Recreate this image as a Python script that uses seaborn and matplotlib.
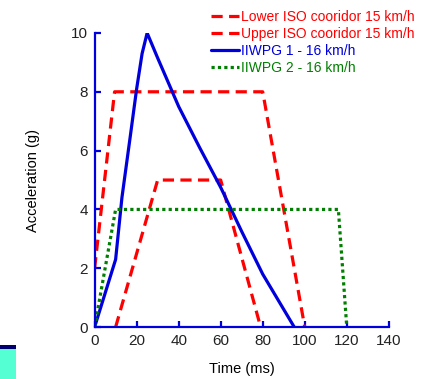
import matplotlib
matplotlib.use("Agg")
import matplotlib.pyplot as plt
import seaborn as sns
import pandas as pd
from matplotlib.patches import Rectangle

# Data
lower_t = [10, 30, 60, 79]
lower_a = [0, 5, 5, 0]
upper_t = [0, 9.5, 80, 100]
upper_a = [2, 8, 8, 0]
iiwpg1_t = [0, 10, 13, 17, 20, 22.6, 25, 30, 40, 50, 60, 70, 80, 95]
iiwpg1_a = [0, 2.3, 4.4, 6.5, 8.1, 9.3, 10, 9.15, 7.5, 6.1, 4.75, 3.25, 1.8, 0]
iiwpg2_t = [0, 10, 116, 120]
iiwpg2_a = [0, 4, 4, 0]

labels = ["Lower ISO cooridor 15 km/h", "Upper ISO cooridor 15 km/h",
          "IIWPG 1 - 16 km/h", "IIWPG 2 - 16 km/h"]
xticks = [0, 20, 40, 60, 80, 100, 120, 140]
yticks = [0, 2, 4, 6, 8, 10]

sns.set_theme(style="white")
plt.rcParams['font.family'] = ['Liberation Sans', 'DejaVu Sans']

fig = plt.figure(figsize=(4.32, 3.79), dpi=100)
ax = fig.add_axes([0.219, 0.137, 0.681, 0.776])

red = "#ff0000"
blue = "#0000dd"
green = "#008000"

series = [
    (lower_t, lower_a, labels[0], red, (0, (3.5, 2.0))),
    (upper_t, upper_a, labels[1], red, (0, (3.5, 2.0))),
    (iiwpg1_t, iiwpg1_a, labels[2], blue, "-"),
    (iiwpg2_t, iiwpg2_a, labels[3], green, (0, (1.0, 1.0))),
]
for t, a, lab, col, ls in series:
    df = pd.DataFrame({"t": t, "a": a})
    sns.lineplot(data=df, x="t", y="a", ax=ax, color=col, linestyle=ls,
                 linewidth=2.3, label=lab, estimator=None, sort=False)

ax.set_xlim(0, 140)
ax.set_ylim(0, 10)
ax.set_xticks(xticks)
ax.set_yticks(yticks)
ax.set_xlabel("Time (ms)", fontsize=10.5, color="black", labelpad=10)
ax.set_ylabel("Acceleration (g)", fontsize=10.5, color="black", labelpad=22)

for s in ["top", "right"]:
    ax.spines[s].set_visible(False)
for s in ["left", "bottom"]:
    ax.spines[s].set_color(blue)
    ax.spines[s].set_linewidth(1.6)
ax.tick_params(axis="both", direction="in", length=4.5, width=1.6, color=blue,
               labelsize=11, labelcolor="#222222", pad=5)
ax.tick_params(left=True, bottom=True)

leg = ax.legend(loc="upper left", bbox_to_anchor=(0.488, 0.973),
                bbox_transform=fig.transFigure, frameon=False, fontsize=10,
                borderpad=0, borderaxespad=0, handlelength=2.0,
                handletextpad=0.2, labelspacing=0.2)
for txt, line in zip(leg.get_texts(), leg.get_lines()):
    txt.set_color(line.get_color())

# bottom-left artifact
fig.patches.append(Rectangle((0, 0), 16/432, 34/379, transform=fig.transFigure,
                             facecolor="#55ffd4", edgecolor="none", figure=fig))
fig.patches.append(Rectangle((0, 30/379), 16/432, 4/379, transform=fig.transFigure,
                             facecolor="#000070", edgecolor="none", figure=fig))

fig.savefig("out.png", dpi=100)
